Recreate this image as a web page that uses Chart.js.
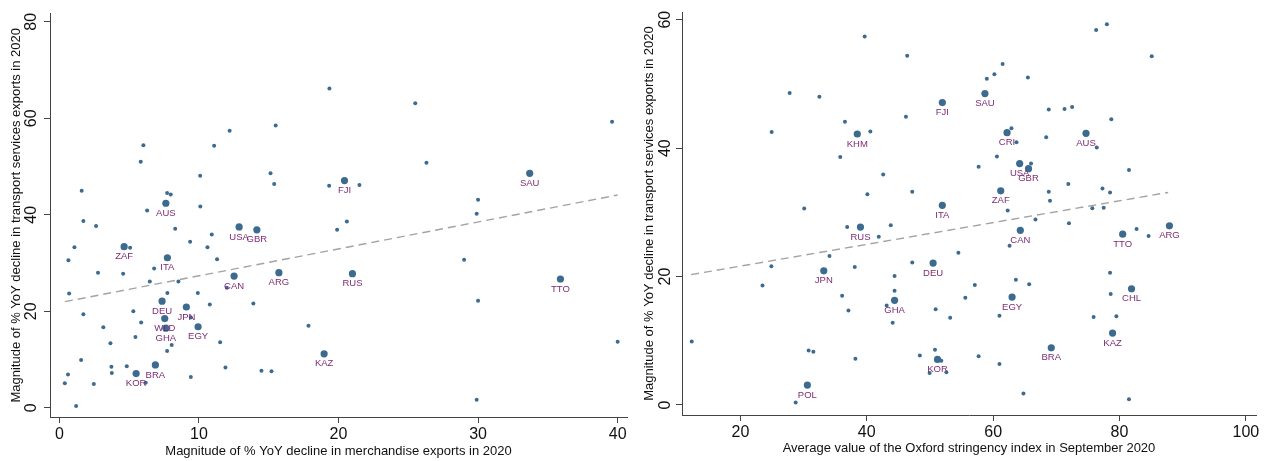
<!DOCTYPE html>
<html>
<head>
<meta charset="utf-8">
<script src="https://cdn.jsdelivr.net/npm/chart.js@4"></script>
<style>
  body { margin: 0; background: #fff; }
  #wrap { position: relative; width: 1271px; height: 461px; }
  canvas { position: absolute; top: 0; }
</style>
</head>
<body>
<div id="wrap">
  <canvas id="left" width="635" height="461" style="left:0;width:635px;height:461px"></canvas>
  <canvas id="right" width="636" height="461" style="left:635px;width:636px;height:461px"></canvas>
</div>
<script>
// ---- left panel: merchandise decline vs transport decline ----
var leftX = [1.6, 1.72, 2.63, 6.02, 5.83, 6.29, 7.72, 7.98, 8.3, 10.09, 10.1, 11.09, 12.2, 15.5, 15.13, 15.39,
  19.35, 19.33, 25.5, 39.6, 26.3, 21.5, 30.0, 29.9, 20.6, 19.9, 10.92, 9.37, 10.61, 1.08, 5.07, 0.65,
  11.3, 2.77, 6.79, 4.57, 6.48, 8.53, 12.0, 0.7, 7.74, 9.92, 10.78, 13.9, 5.3, 1.72, 9.42, 5.86,
  3.15, 5.45, 3.66, 11.52, 8.05, 7.72, 1.56, 17.85, 3.73, 4.83, 11.9, 14.48, 15.2, 0.62, 3.76, 9.42,
  0.39, 2.47, 6.19, 1.2, 29.0, 30.0, 40.0, 29.9];
var leftY = [45.0, 38.7, 37.7, 54.4, 51.0, 40.9, 44.5, 44.2, 37.1, 48.1, 41.7, 54.3, 57.4, 58.5, 48.6, 46.4,
  66.2, 46.0, 63.1, 59.3, 50.8, 46.2, 43.1, 40.2, 38.6, 36.9, 35.9, 34.4, 33.3, 33.3, 33.2, 30.6,
  30.8, 28.0, 28.9, 27.8, 26.2, 26.2, 24.9, 23.7, 23.8, 23.8, 21.4, 21.6, 20.0, 19.4, 18.7, 17.7,
  16.7, 14.7, 13.4, 13.6, 13.0, 11.8, 9.9, 17.0, 8.5, 8.6, 8.35, 7.7, 7.6, 6.9, 7.2, 6.4,
  5.1, 4.96, 5.2, 0.4, 30.7, 22.2, 13.7, 1.7];
var leftCodes = ["AUS", "USA", "GBR", "ZAF", "ITA", "CAN", "ARG", "DEU", "JPN", "WLD", "GHA", "EGY", "BRA", "KOR",
  "KAZ", "FJI", "SAU", "RUS", "TTO"];
var leftCodeX = [7.63, 12.88, 14.15, 4.64, 7.74, 12.52, 15.73, 7.36, 9.1, 7.55, 7.63, 9.94, 6.88, 5.5,
  18.97, 20.43, 33.7, 21.0, 35.9];
var leftCodeY = [42.4, 37.5, 36.9, 33.4, 31.1, 27.3, 28.0, 22.1, 20.9, 18.5, 16.5, 16.8, 8.9, 7.1,
  11.2, 47.1, 48.6, 27.8, 26.7];
var leftFitX = [0.4, 40];
var leftFitY = [22.0, 44.1];
var leftXTicks = [0, 10, 20, 30, 40];
var leftYTicks = [0, 20, 40, 60, 80];

// ---- right panel: Oxford stringency vs transport decline ----
var rightX = [39.67, 46.4, 27.8, 32.5, 46.2, 36.55, 24.95, 40.57, 35.8, 42.6, 40.1, 47.2, 30.1, 36.9, 43.8, 41.9,
  54.5, 34.1, 24.9, 38.1, 47.2, 44.4, 23.5, 44.4, 36.1, 43.15, 37.1, 50.9, 53.2, 44.1, 12.3, 30.8,
  31.55, 50.8, 48.4, 38.2, 51.8, 49.95, 52.6, 28.75, 76.3, 78.0, 85.1, 61.5, 60.2, 59.0, 65.5, 68.8,
  71.3, 72.5, 78.7, 62.9, 63.7, 68.4, 76.4, 60.6, 57.7, 66.0, 81.5, 71.9, 68.8, 77.3, 78.5, 69.0,
  62.3, 75.7, 77.5, 66.7, 72.0, 82.7, 62.6, 84.6, 78.5, 63.6, 65.7, 57.1, 78.6, 55.6, 61.0, 75.9,
  79.5, 57.7, 61.0, 64.8, 81.5];
var rightY = [57.4, 54.4, 48.6, 48.0, 44.9, 44.1, 42.5, 42.6, 38.6, 35.9, 32.8, 33.2, 30.6, 27.7, 28.0, 26.2,
  23.7, 23.2, 21.6, 21.5, 22.2, 20.1, 18.6, 17.8, 17.0, 15.5, 14.7, 14.9, 13.6, 12.8, 9.9, 8.5,
  8.3, 8.6, 7.7, 7.2, 6.9, 5.0, 5.1, 0.4, 58.4, 59.3, 54.3, 53.1, 51.5, 50.8, 51.0, 46.0,
  46.1, 46.4, 44.5, 43.1, 40.9, 41.7, 40.1, 38.7, 37.1, 37.6, 36.6, 34.4, 33.2, 33.7, 33.1, 31.8,
  30.3, 30.65, 30.7, 28.9, 28.3, 27.4, 24.8, 26.3, 20.6, 19.5, 18.8, 18.7, 17.3, 16.7, 13.9, 13.7,
  13.8, 7.6, 6.4, 1.8, 0.9];
var rightCodes = ["FJI", "KHM", "ITA", "RUS", "DEU", "JPN", "GHA", "KOR", "POL", "SAU", "CRI", "AUS", "USA",
  "GBR", "ZAF", "CAN", "TTO", "ARG", "EGY", "CHL", "KAZ", "BRA"];
var rightCodeX = [51.96, 38.5, 51.96, 39.0, 50.5, 33.2, 44.4, 51.2, 30.6, 58.7, 62.2, 74.7, 64.2,
  65.6, 61.2, 64.3, 80.5, 87.9, 63.0, 81.9, 78.9, 69.2];
var rightCodeY = [47.1, 42.2, 31.1, 27.7, 22.1, 20.9, 16.3, 7.1, 3.1, 48.5, 42.4, 42.3, 37.6,
  36.8, 33.35, 27.2, 26.6, 27.9, 16.8, 18.1, 11.2, 8.9];
var rightFitX = [12.2, 87.7];
var rightFitY = [20.3, 33.1];
var rightXTicks = [20, 40, 60, 80, 100];
var rightYTicks = [0, 20, 40, 60];

var dotColor = "#3d6a8f";
var labelColor = "#7e2a74";
var axisColor = "#444444";
var fontFamily = '"Liberation Sans", Arial, Helvetica, sans-serif';

function toPoints(xs, ys) {
  return xs.map(function(x, i) { return {x: x, y: ys[i]}; });
}

// country codes under the big markers
var codeLabels = {
  id: "codeLabels",
  afterDatasetsDraw: function(chart) {
    var codes = chart.options.plugins.codeLabels.codes;
    var meta = chart.getDatasetMeta(1);
    var ctx = chart.ctx;
    ctx.save();
    ctx.font = "9.5px " + fontFamily;
    ctx.fillStyle = labelColor;
    ctx.textAlign = "center";
    ctx.textBaseline = "middle";
    meta.data.forEach(function(pt, i) {
      ctx.fillText(codes[i], pt.x, pt.y + 10);
    });
    ctx.restore();
  }
};

function panel(id, p) {
  var ctx = document.getElementById(id).getContext("2d");
  return new Chart(ctx, {
    type: "scatter",
    data: {
      datasets: [
        {
          data: toPoints(p.xs, p.ys),
          backgroundColor: dotColor,
          borderWidth: 0,
          pointRadius: 2
        },
        {
          data: toPoints(p.codeX, p.codeY),
          backgroundColor: dotColor,
          borderWidth: 0,
          pointRadius: 3.6
        },
        {
          type: "line",
          data: toPoints(p.fitX, p.fitY),
          borderColor: "#a3a3a3",
          borderWidth: 1.4,
          borderDash: [8, 5],
          pointRadius: 0,
          fill: false
        }
      ]
    },
    options: {
      responsive: false,
      animation: false,
      devicePixelRatio: 1,
      layout: { padding: { top: 12, right: p.padRight, left: 0, bottom: 0 } },
      plugins: {
        legend: { display: false },
        tooltip: { enabled: false },
        codeLabels: { codes: p.codes }
      },
      scales: {
        x: {
          type: "linear",
          min: p.xMin,
          max: p.xMax,
          afterBuildTicks: function(s) { s.ticks = p.xTicks.map(function(v) { return {value: v}; }); },
          afterFit: function(s) { s.height = 461 - p.bottom; },
          grid: { drawOnChartArea: false, drawTicks: true, tickLength: 6, color: axisColor },
          border: { display: true, color: axisColor, width: 1 },
          ticks: { color: "#111", font: { family: fontFamily, size: 16 }, padding: 2, maxRotation: 0 },
          title: {
            display: true,
            text: p.xTitle,
            color: "#111",
            font: { family: fontFamily, size: 13 },
            padding: { top: 0, bottom: p.xTitlePad }
          }
        },
        y: {
          type: "linear",
          min: p.yMin,
          max: p.yMax,
          afterBuildTicks: function(s) { s.ticks = p.yTicks.map(function(v) { return {value: v}; }); },
          afterFit: function(s) { s.width = p.yWidth; },
          grid: { drawOnChartArea: false, drawTicks: true, tickLength: 6, color: axisColor },
          border: { display: true, color: axisColor, width: 1 },
          ticks: {
            color: "#111",
            font: { family: fontFamily, size: 16 },
            minRotation: 90,
            maxRotation: 90,
            crossAlign: "center",
            padding: p.yTickPad
          },
          title: {
            display: true,
            text: "Magnitude of % YoY decline in transport services exports in 2020",
            color: "#111",
            font: { family: fontFamily, size: 13 },
            padding: { top: p.yTitlePad, bottom: 0 }
          }
        }
      }
    },
    plugins: [codeLabels]
  });
}

panel("left", {
  xs: leftX, ys: leftY, codes: leftCodes, codeX: leftCodeX, codeY: leftCodeY,
  fitX: leftFitX, fitY: leftFitY, xTicks: leftXTicks, yTicks: leftYTicks,
  xMin: -0.67, xMax: 40.67, yMin: -1.9, yMax: 81.7,
  padRight: 8, bottom: 417, yWidth: 50, yTickPad: 4, yTitlePad: 9, xTitlePad: 2,
  xTitle: "Magnitude of % YoY decline in merchandise exports in 2020"
});

panel("right", {
  xs: rightX, ys: rightY, codes: rightCodes, codeX: rightCodeX, codeY: rightCodeY,
  fitX: rightFitX, fitY: rightFitY, xTicks: rightXTicks, yTicks: rightYTicks,
  xMin: 10.76, xMax: 101.6, yMin: -1.56, yMax: 61.2,
  padRight: 15, bottom: 415, yWidth: 47, yTickPad: 1.5, yTitlePad: 7, xTitlePad: 5,
  xTitle: "Average value of the Oxford stringency index in September 2020"
});
</script>
</body>
</html>
